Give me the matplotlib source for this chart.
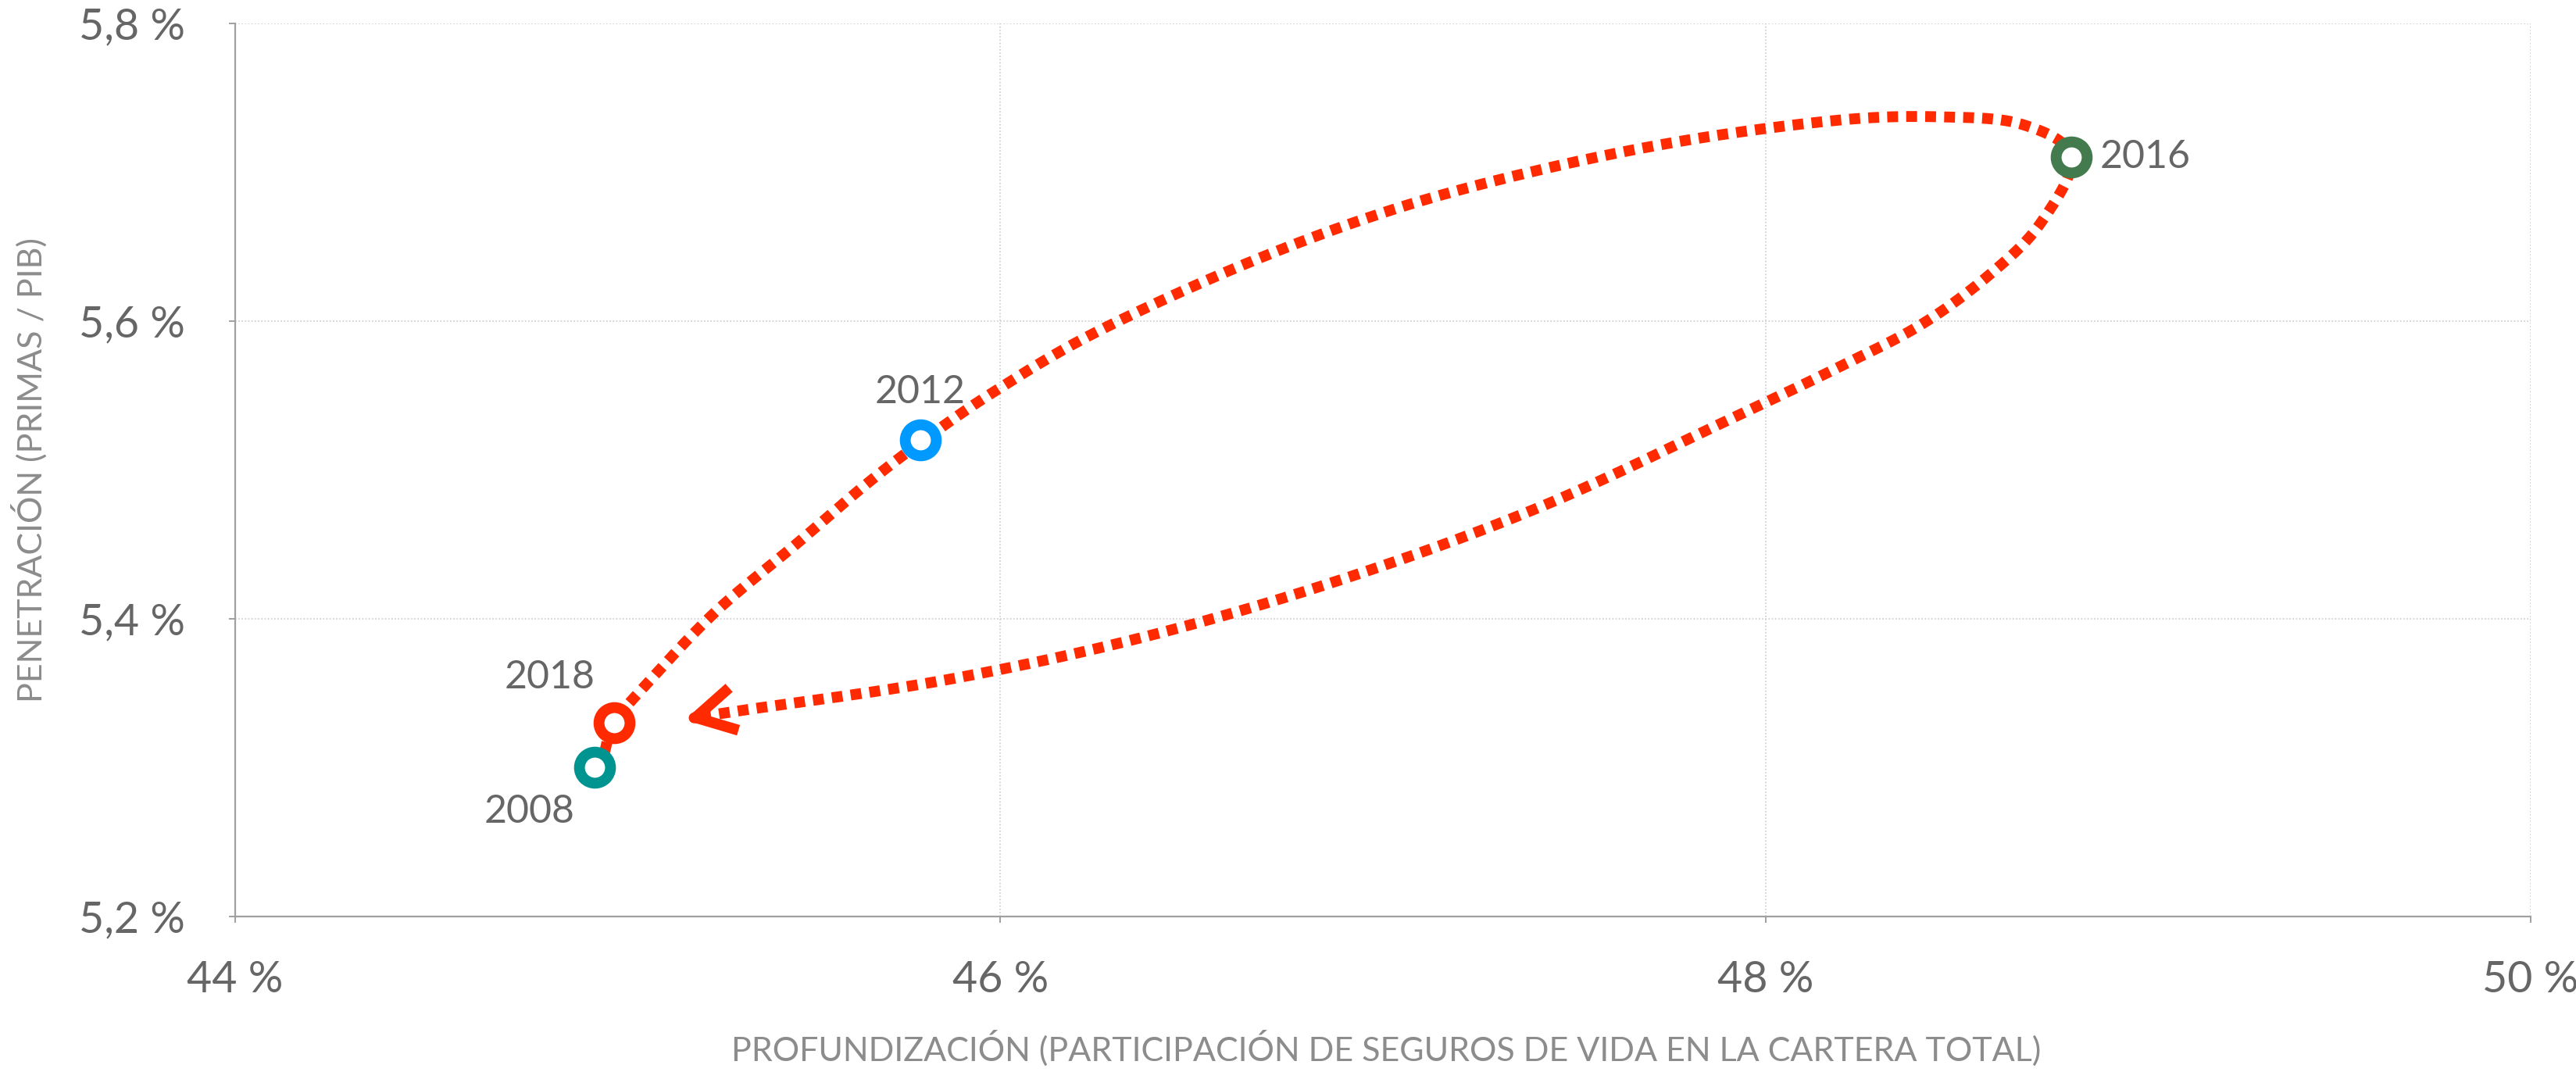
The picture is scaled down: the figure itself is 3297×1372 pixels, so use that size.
import numpy as np
import matplotlib
matplotlib.use("Agg")
import matplotlib.pyplot as plt
from matplotlib.patches import FancyArrowPatch

# ---- data ----
years = ["2008", "2012", "2016", "2018"]
profundizacion = [44.94, 45.79, 48.80, 44.99]   # % (x)
penetracion = [5.30, 5.52, 5.71, 5.33]          # % (y)
colors = ["#009490", "#0099FF", "#437A4E", "#FF2A00"]

x_ticks = [44, 46, 48, 50]
y_ticks = [5.2, 5.4, 5.6, 5.8]
x_tick_labels = ["44 %", "46 %", "48 %", "50 %"]
y_tick_labels = ["5,2 %", "5,4 %", "5,6 %", "5,8 %"]

# hand-drawn annotation path (decorative arrow 2018 -> 2012 -> 2016 -> back)
path_x = [44.965, 44.99, 45.075, 45.257, 45.466, 45.648, 45.80, 45.987, 46.247,
          46.638, 47.029, 47.42, 47.81, 48.20, 48.46, 48.67, 48.80, 48.72, 48.59,
          48.41, 48.20, 47.94, 47.42, 46.90, 46.38, 45.86, 45.34, 45.21]
path_y = [5.310, 5.330, 5.356, 5.405, 5.450, 5.490, 5.520, 5.553, 5.592,
          5.638, 5.675, 5.702, 5.722, 5.735, 5.737, 5.732, 5.710, 5.666, 5.632,
          5.598, 5.570, 5.538, 5.476, 5.427, 5.388, 5.359, 5.339, 5.334]
arrow_tip = (45.175, 5.332)

RED = "#FF2A00"
TICK_COLOR = "#666666"
LABEL_COLOR = "#8c8c8c"

plt.rcParams['font.family'] = ['Lato', 'DejaVu Sans']

W, H, DPI = 3298, 1372, 200
fig = plt.figure(figsize=(W / DPI, H / DPI), dpi=DPI)
ax = fig.add_axes([301 / W, 1 - 1173 / H, (3239 - 301) / W, (1173 - 29.5) / H])

ax.set_xlim(44, 50)
ax.set_ylim(5.2, 5.8)
ax.set_xticks(x_ticks)
ax.set_xticklabels(x_tick_labels)
ax.set_yticks(y_ticks)
ax.set_yticklabels(y_tick_labels)

for s in ["top", "right"]:
    ax.spines[s].set_visible(False)
for s in ["left", "bottom"]:
    ax.spines[s].set_color("#a0a0a0")
    ax.spines[s].set_linewidth(0.8)

ax.tick_params(axis="both", colors="#a0a0a0", labelcolor=TICK_COLOR,
               labelsize=20, length=3, width=0.7)
ax.tick_params(axis="y", pad=20)
ax.tick_params(axis="x", pad=17)

ax.grid(True, color="#cccccc", linestyle=(0, (1, 1.5)), linewidth=0.6)
ax.set_axisbelow(True)


def catmull_rom(xs, ys, n=30):
    pts = np.column_stack([xs, ys])
    scale = np.array([1 / 6.0, 1 / 0.6 * (1143.5 / 2938)])
    p = pts * scale
    p = np.vstack([2 * p[0] - p[1], p, 2 * p[-1] - p[-2]])
    out = []
    for i in range(1, len(p) - 2):
        p0, p1, p2, p3 = p[i - 1], p[i], p[i + 1], p[i + 2]
        t = np.linspace(0, 1, n, endpoint=False)[:, None]
        seg = 0.5 * ((2 * p1) + (-p0 + p2) * t + (2 * p0 - 5 * p1 + 4 * p2 - p3) * t ** 2
                     + (-p0 + 3 * p1 - 3 * p2 + p3) * t ** 3)
        out.append(seg)
    out.append(p[-2][None, :])
    out = np.vstack(out) / scale
    return out[:, 0], out[:, 1]


cx, cy = catmull_rom(path_x, path_y)
ax.plot(cx, cy, color=RED, linewidth=5.0, linestyle=(0, (1.0, 0.75)),
        dash_capstyle="butt", zorder=3)

arrow = FancyArrowPatch(posA=(path_x[-1], path_y[-1]), posB=arrow_tip,
                        arrowstyle="->,head_length=0.9,head_width=0.5",
                        mutation_scale=20, color=RED, linewidth=5.0,
                        shrinkA=0, shrinkB=0, capstyle="butt", joinstyle="round",
                        zorder=3)
ax.add_patch(arrow)

for xv, yv, c in zip(profundizacion, penetracion, colors):
    ax.plot([xv], [yv], marker="o", markersize=14.3, markerfacecolor="white",
            markeredgecolor=c, markeredgewidth=5.0, linestyle="none", zorder=5,
            clip_on=False)

label_offsets = {"2008": (-30, -20.5, "center", "center"),
                 "2012": (0, 22, "center", "center"),
                 "2016": (13, 0, "left", "center"),
                 "2018": (-29.5, 21, "center", "center")}
for yr, xv, yv in zip(years, profundizacion, penetracion):
    dx, dy, ha, va = label_offsets[yr]
    ax.annotate(yr, (xv, yv), xytext=(dx, dy), textcoords="offset points",
                ha=ha, va=va, fontsize=18, color=TICK_COLOR, zorder=6)

fig.text(1774 / W, 1 - 1342 / H,
         "PROFUNDIZACIÓN (PARTICIPACIÓN DE SEGUROS DE VIDA EN LA CARTERA TOTAL)",
         ha="center", va="center", fontsize=15.5, color=LABEL_COLOR)
fig.text(38 / W, 1 - ((1173 + 29.5) / 2) / H, "PENETRACIÓN (PRIMAS / PIB)",
         ha="center", va="center", rotation=90, fontsize=15.5, color=LABEL_COLOR)

fig.savefig("out.png", dpi=DPI, facecolor="white")
